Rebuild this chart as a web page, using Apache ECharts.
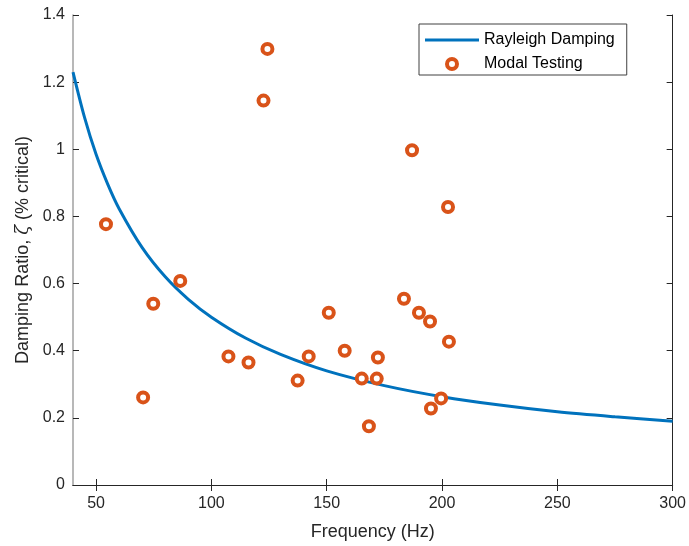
<!DOCTYPE html>
<html>
<head>
<meta charset="utf-8">
<script src="https://cdn.jsdelivr.net/npm/echarts@6/dist/echarts.min.js"></script>
<style>html,body{margin:0;padding:0;background:#fff;}#c{width:689px;height:546px;}</style>
</head>
<body>
<div id="c"></div>
<script>
// Rayleigh damping curve values (Hz, % critical)
const curveFreq = [40, 45, 50, 55, 60, 70, 80, 90, 100, 115, 130, 150, 175, 200, 225, 250, 275, 300];
const curveZeta = [1.23, 1.095, 0.985, 0.897, 0.823, 0.707, 0.62, 0.553, 0.50, 0.437, 0.389, 0.340, 0.296, 0.263, 0.238, 0.218, 0.203, 0.19];
// Modal testing points
const modalFreq = [54.3, 70.4, 74.8, 86.5, 107.4, 116.1, 122.6, 124.3, 137.4, 142.2, 150.9, 157.8, 165.2, 168.3, 171.7, 172.2, 183.5, 187.0, 190.0, 194.8, 195.2, 199.6, 202.6, 203.0];
const modalZeta = [0.777, 0.261, 0.540, 0.608, 0.383, 0.365, 1.145, 1.299, 0.311, 0.383, 0.513, 0.400, 0.317, 0.175, 0.317, 0.380, 0.555, 0.997, 0.513, 0.487, 0.228, 0.258, 0.828, 0.427];
const xTicks = [50, 100, 150, 200, 250, 300];
const yTicks = [0, 0.2, 0.4, 0.6, 0.8, 1, 1.2, 1.4];

const FONT = '"Liberation Sans", Arial, Helvetica, sans-serif';
const TXT = '#262626';
const chart = echarts.init(document.getElementById('c'), null, {renderer: 'canvas'});

const tickCommon = {show: true, inside: true, length: 6, lineStyle: {color: TXT, width: 1}};
chart.setOption({
  animation: false,
  backgroundColor: '#fff',
  grid: {left: 73, right: 16, top: 15, bottom: 58, containLabel: false},
  legend: {
    orient: 'vertical', left: 419, top: 24,
    padding: [8, 12, 3, 6], itemGap: 8, itemWidth: 54, itemHeight: 10,
    borderColor: '#404040', borderWidth: 1, backgroundColor: '#fff',
    textStyle: {fontFamily: FONT, fontSize: 16, color: '#000'},
    data: [
      {name: 'Rayleigh Damping', icon: 'path://M0,0 L54,0 L54,3 L0,3 Z'},
      {name: 'Modal Testing', icon: 'circle',
       itemStyle: {color: '#ffffff', borderColor: '#D95319', borderWidth: 4}}
    ]
  },
  xAxis: [{
    type: 'value', min: 40, max: 300, position: 'bottom',
    name: 'Frequency (Hz)', nameLocation: 'middle', nameGap: 38,
    nameTextStyle: {fontFamily: FONT, fontSize: 18, color: TXT},
    axisLine: {show: true, lineStyle: {color: TXT, width: 1}},
    axisTick: Object.assign({customValues: xTicks}, tickCommon),
    axisLabel: {customValues: xTicks, fontFamily: FONT, fontSize: 16, color: TXT, margin: 11},
    splitLine: {show: false}
  }, {
    type: 'value', min: 40, max: 300, position: 'top',
    axisLine: {show: true, lineStyle: {color: TXT, width: 1}},
    axisTick: Object.assign({customValues: xTicks}, tickCommon),
    axisLabel: {show: false},
    splitLine: {show: false}
  }],
  yAxis: [{
    type: 'value', min: 0, max: 1.4, interval: 0.2, position: 'left',
    name: '{n|Damping Ratio, }{z|ζ}{n| (% critical)}', nameLocation: 'middle', nameGap: 40, nameRotate: 90,
    nameTextStyle: {fontFamily: FONT, fontSize: 18, color: TXT,
      rich: {n: {fontFamily: FONT, fontSize: 18, color: TXT}, z: {fontFamily: '"DejaVu Serif", serif', fontStyle: 'italic', fontSize: 18, color: TXT}}},
    axisLine: {show: true, lineStyle: {color: '#a0a0a0', width: 1.5}},
    axisTick: Object.assign({customValues: yTicks}, tickCommon),
    axisLabel: {customValues: yTicks, fontFamily: FONT, fontSize: 16, color: TXT, margin: 8},
    splitLine: {show: false}
  }, {
    type: 'value', min: 0, max: 1.4, interval: 0.2, position: 'right',
    axisLine: {show: true, lineStyle: {color: TXT, width: 1}},
    axisTick: Object.assign({customValues: yTicks}, tickCommon),
    axisLabel: {show: false},
    splitLine: {show: false}
  }],
  series: [{
    name: 'Rayleigh Damping', type: 'line', xAxisIndex: 0, yAxisIndex: 0,
    data: curveFreq.map((f, i) => [f, curveZeta[i]]),
    smooth: 0.3, symbol: 'none', showSymbol: false,
    lineStyle: {color: '#0072BD', width: 3}, itemStyle: {color: '#0072BD'}, z: 2
  }, {
    name: 'Modal Testing', type: 'scatter', xAxisIndex: 0, yAxisIndex: 0,
    data: modalFreq.map((f, i) => [f, modalZeta[i]]),
    symbol: 'circle', symbolSize: 10,
    itemStyle: {color: '#ffffff', borderColor: '#D95319', borderWidth: 4, opacity: 1}, z: 3
  }]
});
</script>
</body>
</html>
